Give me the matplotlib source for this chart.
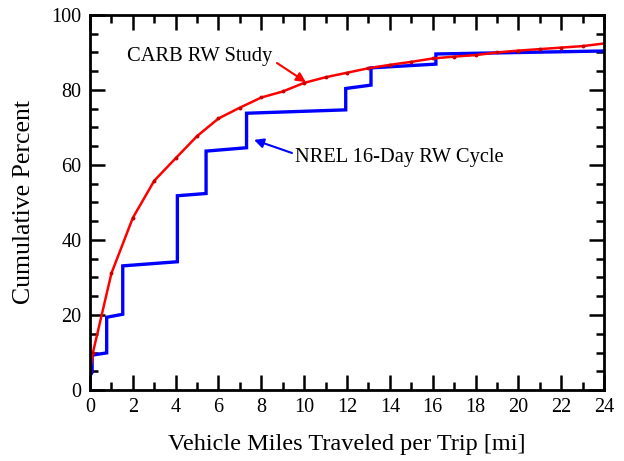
import matplotlib.pyplot as plt
from matplotlib.ticker import MultipleLocator

plt.rcParams['font.family'] = ['Liberation Serif', 'DejaVu Serif']

# CARB real-world study, cumulative share of trips by length
carb_miles = [0, 0.13, 1, 2, 3, 4, 5, 6, 7, 8, 9, 10, 11, 12, 13, 14, 15, 16, 17, 18,
              19, 20, 21, 22, 23, 24]
carb_pct = [5.0, 9.8, 31.1, 45.9, 55.8, 61.8, 67.7, 72.4, 75.3, 78.0, 79.6, 81.9, 83.4,
            84.6, 85.8, 86.7, 87.5, 88.4, 88.9, 89.3, 90.0, 90.5, 90.9, 91.3, 91.7, 92.4]

# NREL 16-day real-world cycle
nrel_miles = [0, 0, 0.1, 0.1, 0.78, 0.78, 1.53, 1.53, 4.08, 4.08, 5.42, 5.42, 7.31, 7.31,
              11.94, 11.94, 13.12, 13.12, 16.15, 16.15, 24]
nrel_pct = [0, 3.8, 4.7, 9.3, 9.9, 19.4, 20.2, 33.1, 34.2, 51.8, 52.4, 63.7, 64.6, 73.8,
            74.7, 80.4, 81.3, 85.9, 86.9, 89.6, 90.4]

fig = plt.figure(figsize=(6.24, 4.61), dpi=100)
ax = fig.add_axes([0.1442, 0.154, 0.8238, 0.8135])

ax.plot(nrel_miles, nrel_pct, color='#0000ff', lw=2.4, solid_joinstyle='miter')
ax.plot(carb_miles, carb_pct, color='#ff0000', lw=1.8, marker='o', ms=1.8,
        mfc='#cc0000', mec='#cc0000')

ax.set_xlim(0, 24)
ax.set_ylim(0, 100)
ax.xaxis.set_major_locator(MultipleLocator(2))
ax.xaxis.set_minor_locator(MultipleLocator(1))
ax.yaxis.set_major_locator(MultipleLocator(20))
ax.yaxis.set_minor_locator(MultipleLocator(5))
ax.tick_params(which='both', direction='in', top=True, right=True, width=1.8,
               labelsize=14.5, pad=6)
ax.tick_params(which='major', length=11)
ax.tick_params(which='minor', length=6)
for side in ax.spines.values():
    side.set_linewidth(2)

ax.set_xlabel('Vehicle Miles Traveled per Trip [mi]', fontsize=17.5, labelpad=12)
ax.set_ylabel('Cumulative Percent', fontsize=18.5, labelpad=12)

# curve labels with pointer arrows
ax.text(1.75, 88.8, 'CARB RW Study', fontsize=14.8, va='center')
ax.annotate('', xy=(10.08, 82.1), xytext=(8.73, 87.2),
            arrowprops=dict(arrowstyle='-|>', color='#ff0000', lw=1.5,
                            mutation_scale=14, shrinkA=0, shrinkB=0))
ax.text(9.57, 62.1, 'NREL 16-Day RW Cycle', fontsize=14.8, va='center')
ax.annotate('', xy=(7.66, 66.7), xytext=(9.43, 63.2),
            arrowprops=dict(arrowstyle='-|>', color='#0000ff', lw=1.5,
                            mutation_scale=14, shrinkA=0, shrinkB=0))

fig.savefig('out.png', dpi=100)
